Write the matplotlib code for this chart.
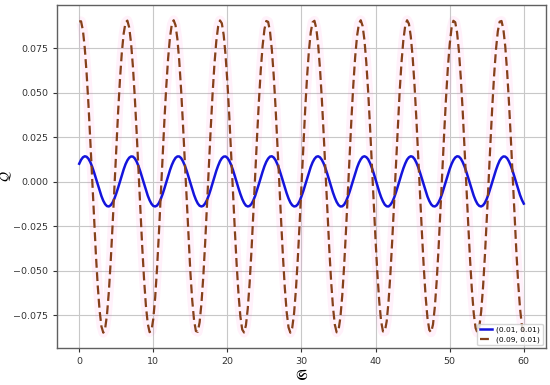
import numpy as np
import matplotlib
matplotlib.use("Agg")
import matplotlib.pyplot as plt

####################################################################################################

t_step = 0.25

q_small = [
    100, 122, 136, 142, 139, 128, 109, 83, 52, 18, -17, -52, -82, -108, -127, -138, -140, -133,
    -118, -96, -67, -35, 0, 35, 68, 97, 119, 134, 141, 140, 130, 112, 87, 56, 22, -13, -47, -79,
    -105, -125, -137, -140, -135, -121, -99, -71, -39, -4, 31, 64, 93, 116, 133, 141, 141, 132,
    114, 90, 61, 27, -8, -43, -75, -102, -123, -136, -140, -136, -123, -103, -76, -44, -9, 26, 60,
    89, 114, 131, 140, 141, 133, 117, 94, 65, 32, -3, -38, -70, -98, -120, -135, -140, -137, -126,
    -106, -80, -48, -14, 21, 55, 86, 111, 129, 140, 142, 135, 120, 97, 69, 36, 2, -33, -66, -95,
    -118, -133, -140, -138, -128, -109, -83, -53, -19, 17, 51, 82, 108, 127, 139, 142, 136, 122,
    101, 73, 41, 6, -29, -62, -91, -115, -132, -140, -139, -130, -112, -87, -57, -23, 12, 46, 78,
    105, 125, 138, 142, 137, 125, 104, 77, 46, 11, -24, -58, -88, -112, -130, -139, -140, -131,
    -115, -91, -61, -28, 7, 42, 74, 101, 123, 136, 142, 139, 127, 107, 81, 50, 16, -19, -53, -84,
    -109, -128, -138, -140, -133, -117, -95, -66, -33, 2, 37, 70, 98, 120, 135, 142, 140, 129, 110,
    85, 55, 21, -15, -49, -80, -106, -126, -137, -140, -134, -120, -98, -70, -37, -3, 32, 65, 94,
    118, 133, 141, 140, 131, 113, 89, 59, 25, -10, -44, -76, -103, -124,
]

q_large = [
    900, 900, 849, 750, 608, 431, 229, 13, -204, -408, -585, -724, -814, -849, -826, -748, -619,
    -449, -249, -34, 184, 390, 573, 723, 831, 893, 904, 865, 777, 645, 475, 278, 63, -155, -363,
    -547, -696, -798, -846, -837, -771, -653, -491, -297, -84, 134, 344, 533, 692, 810, 883, 906,
    878, 801, 679, 517, 325, 114, -104, -316, -507, -665, -779, -840, -844, -791, -684, -532, -344,
    -135, 84, 297, 492, 658, 787, 871, 905, 889, 823, 711, 558, 372, 164, -54, -269, -466, -632,
    -757, -831, -848, -808, -713, -571, -390, -184, 33, 248, 449, 623, 761, 855, 902, 897, 843, 741,
    596, 417, 213, -3, -220, -422, -597, -733, -819, -849, -822, -740, -607, -435, -234, -18, 200,
    405, 586, 733, 838, 895, 903, 860, 768, 633, 461, 262, 47, -171, -377, -560, -705, -804, -847,
    -834, -764, -642, -478, -282, -68, 150, 359, 546, 702, 817, 886, 906, 874, 794, 668, 504, 310,
    98, -121, -331, -521, -676, -785, -842, -842, -785, -674, -519, -329, -119, 100, 312, 506, 669,
    795, 875, 906, 886, 816, 701, 545, 357, 148, -70, -284, -479, -643, -765, -834, -847, -803,
    -704, -558, -376, -168, 49, 264, 463, 635, 769, 861, 903, 895, 837, 731, 584, 403, 197, -20,
    -236, -437, -609, -741, -823, -849, -818, -731, -596, -420, -218, -1, 215, 419, 598, 742, 844,
    898, 902, 855, 760, 621, 447, 246, 31, -187, -392, -572, -714, -809, -848,
]

labels = ['(0.01, 0.01)', '(0.09, 0.01)']

####################################################################################################

q_small = np.array(q_small) * 1e-4
q_large = np.array(q_large) * 1e-4
t_small = np.arange(len(q_small)) * t_step
t_large = np.arange(len(q_large)) * t_step

figure = plt.figure(figsize=(5.5, 3.85), dpi=100)
axe = figure.add_axes([0.1036, 0.0953, 0.8891, 0.8927])

# faint pink halo behind the dashed curve
axe.plot(t_large, q_large, color='#ff66cc', lw=7, alpha=0.09, solid_capstyle='butt')
axe.plot(t_small, q_small, color='#1414dc', lw=1.8, label=labels[0])
axe.plot(t_large, q_large, color='#85401a', lw=1.6, ls=(0, (4, 2)), label=labels[1])

axe.grid(True, color='#c8c8c8', lw=0.8)
for spine in axe.spines.values():
    spine.set_color('#606060')
    spine.set_linewidth(1.0)
axe.tick_params(labelsize=6.8, colors='#333333', length=3, width=0.8)

axe.set_xlabel(r'$\mathfrak{S}$', fontsize=10, labelpad=1)
axe.set_ylabel(r'$\mathcal{Q}$', fontsize=10)
axe.yaxis.set_label_coords(-0.088, 0.5)

axe.legend(loc='lower right', fontsize=5.4, handlelength=1.6, borderpad=0.35,
           labelspacing=0.35, handletextpad=0.6, borderaxespad=0.4)

figure.savefig('out.png')
